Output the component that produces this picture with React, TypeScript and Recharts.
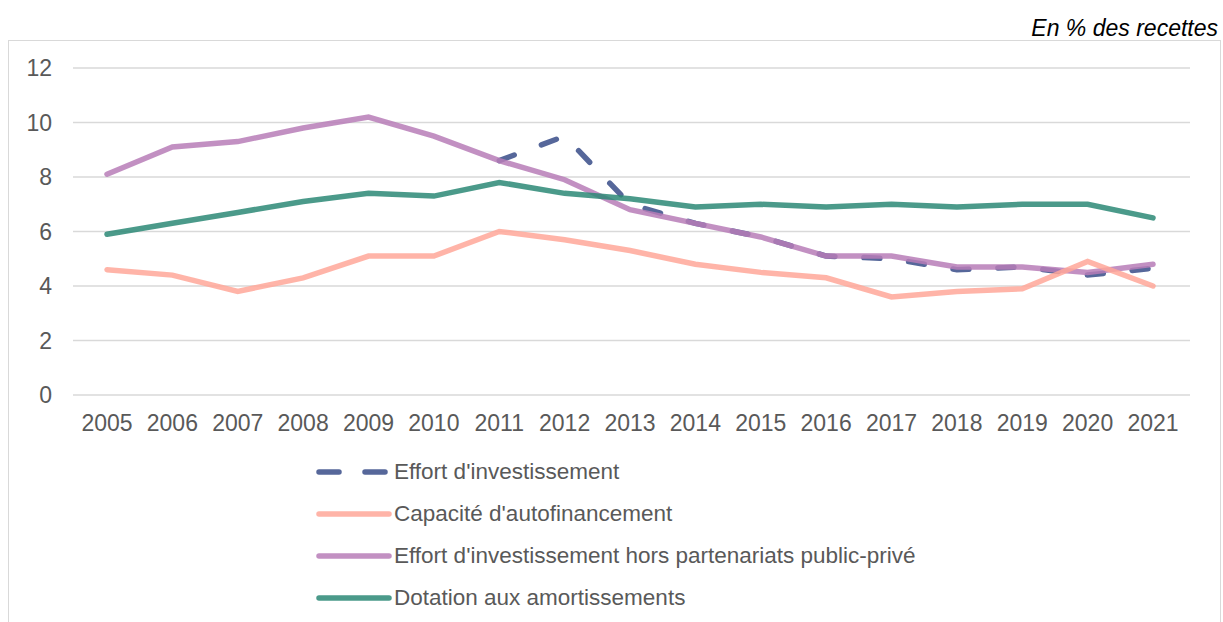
import React from "react";
import { CartesianGrid, Legend, Line, LineChart, XAxis, YAxis } from "recharts";

const YEARS = [
  "2005", "2006", "2007", "2008", "2009", "2010", "2011", "2012", "2013",
  "2014", "2015", "2016", "2017", "2018", "2019", "2020", "2021"
];
const EFFORT = [
  null, null, null, null, null, null, 8.6, 9.5, 7.0,
  6.3, 5.8, 5.1, 5.0, 4.6, 4.7, 4.4, 4.65
];
const CAF = [4.6, 4.4, 3.8, 4.3, 5.1, 5.1, 6.0, 5.7, 5.3, 4.8, 4.5, 4.3, 3.6, 3.8, 3.9, 4.9, 4.0];
const EFFORT_HORS_PPP = [8.1, 9.1, 9.3, 9.8, 10.2, 9.5, 8.6, 7.9, 6.8, 6.3, 5.8, 5.1, 5.1, 4.7, 4.7, 4.5, 4.8];
const DOTATION = [5.9, 6.3, 6.7, 7.1, 7.4, 7.3, 7.8, 7.4, 7.2, 6.9, 7.0, 6.9, 7.0, 6.9, 7.0, 7.0, 6.5];
const Y_TICKS = [0, 2, 4, 6, 8, 10, 12];

const data = YEARS.map((year, i) => ({
  year,
  effort: EFFORT[i],
  caf: CAF[i],
  hors: EFFORT_HORS_PPP[i],
  dotation: DOTATION[i]
}));

const FONT = '"Liberation Sans", Arial, sans-serif';
const TEXT = "#595959";

const LEGEND_ITEMS = [
  { label: "Effort d'investissement", color: "#56679A", dash: true },
  { label: "Capacité d'autofinancement", color: "#FFB4A8", dash: false },
  { label: "Effort d'investissement hors partenariats public-privé", color: "#C290C2", dash: false },
  { label: "Dotation aux amortissements", color: "#4B9A8A", dash: false }
];

function LegendBox() {
  return (
    <div>
      {LEGEND_ITEMS.map((item) => (
        <div key={item.label} style={{ display: "flex", alignItems: "center", height: 42 }}>
          <svg width={80} height={10} style={{ display: "block" }}>
            <line
              x1={6}
              y1={5}
              x2={76}
              y2={5}
              stroke={item.color}
              strokeWidth={5.5}
              strokeLinecap="round"
              strokeDasharray={item.dash ? "20 26" : undefined}
            />
          </svg>
          <span style={{ fontSize: 22.5, color: TEXT, fontFamily: FONT, marginLeft: 1, whiteSpace: "nowrap" }}>
            {item.label}
          </span>
        </div>
      ))}
    </div>
  );
}

export default function App() {
  return (
    <div
      style={{
        position: "relative",
        width: 1223,
        height: 622,
        overflow: "hidden",
        background: "#fff",
        fontFamily: FONT
      }}
    >
      <style>{"body{margin:0}"}</style>
      <div
        style={{
          position: "absolute",
          top: 15,
          right: 5,
          fontStyle: "italic",
          fontSize: 23,
          lineHeight: "26px",
          color: "#000"
        }}
      >
        En % des recettes
      </div>
      <div
        style={{
          position: "absolute",
          top: 40,
          left: 8,
          width: 1213,
          height: 620,
          boxSizing: "border-box",
          border: "1px solid #D9D9D9"
        }}
      >
        <LineChart
          width={1210}
          height={580}
          data={data}
          margin={{ top: 27, right: 29, left: 4, bottom: 196 }}
        >
          <CartesianGrid vertical={false} stroke="#D9D9D9" strokeWidth={1.5} />
          <XAxis
            dataKey="year"
            interval={0}
            height={30}
            tickLine={false}
            axisLine={false}
            tickMargin={14}
            padding={{ left: 34, right: 37 }}
            tick={{ fill: TEXT, fontSize: 23, fontFamily: FONT }}
          />
          <YAxis
            width={60}
            domain={[0, 12]}
            ticks={Y_TICKS}
            tickLine={false}
            axisLine={false}
            tickMargin={15}
            tick={{ fill: TEXT, fontSize: 23, fontFamily: FONT }}
          />
          <Legend
            layout="horizontal"
            verticalAlign="middle"
            align="center"
            content={() => <LegendBox />}
            wrapperStyle={{ top: 410, left: 304, width: 700, height: 170 }}
          />
          <Line
            dataKey="effort"
            stroke="#56679A"
            strokeWidth={5.5}
            strokeLinecap="round"
            strokeDasharray="16 29"
            dot={false}
            activeDot={false}
            isAnimationActive={false}
          />
          <Line
            dataKey="hors"
            stroke="#B77CB7"
            strokeOpacity={0.85}
            strokeWidth={5.5}
            strokeLinecap="round"
            dot={false}
            activeDot={false}
            isAnimationActive={false}
          />
          <Line
            dataKey="caf"
            stroke="#FFA799"
            strokeOpacity={0.85}
            strokeWidth={5.5}
            strokeLinecap="round"
            dot={false}
            activeDot={false}
            isAnimationActive={false}
          />
          <Line
            dataKey="dotation"
            stroke="#2C8876"
            strokeOpacity={0.85}
            strokeWidth={5.5}
            strokeLinecap="round"
            dot={false}
            activeDot={false}
            isAnimationActive={false}
          />
        </LineChart>
      </div>
    </div>
  );
}
